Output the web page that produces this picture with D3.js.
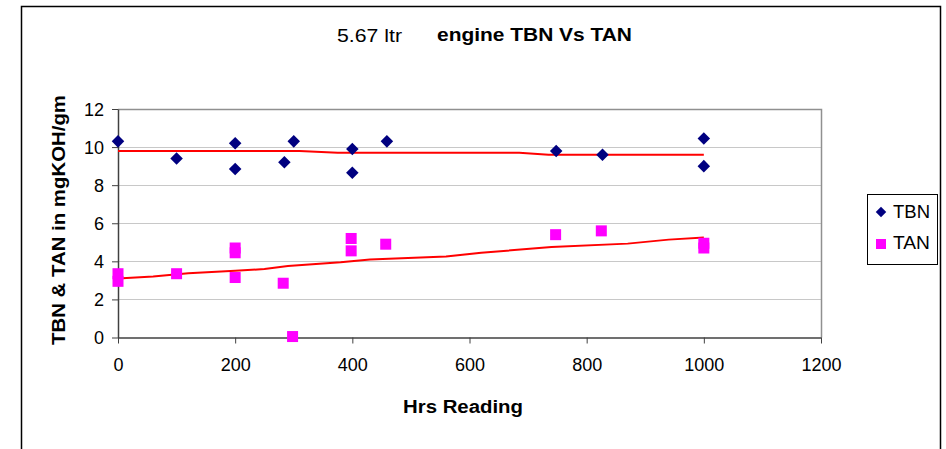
<!DOCTYPE html>
<html>
<head>
<meta charset="utf-8">
<script src="https://cdn.jsdelivr.net/npm/d3@7"></script>
<style>
  body { margin: 0; background: #fff; }
  text { font-family: "Liberation Sans", Arial, sans-serif; }
</style>
</head>
<body>
<div id="container"></div>
<script>
//Width and height
var w = 946;
var h = 449;

//TBN readings (hrs, value)
var tbnHrs = [0, 100, 200, 200, 284, 300, 400, 400, 459, 748, 827, 1000, 1000];
var tbnVals = [10.3, 9.4, 10.2, 8.85, 9.2, 10.3, 9.9, 8.65, 10.3, 9.8, 9.6, 10.45, 9.0];

//TAN readings (hrs, value)
var tanHrs = [0, 0, 100, 200, 200, 200, 282, 298, 398, 398, 457, 747, 825, 1000, 1000];
var tanVals = [3.35, 2.95, 3.35, 4.7, 4.45, 3.15, 2.85, 0.05, 5.2, 4.55, 4.9, 5.4, 5.6, 4.95, 4.7];

//trend lines
var tbnTrendHrs = [0, 310, 375, 685, 735, 1000];
var tbnTrendVals = [9.8, 9.8, 9.7, 9.7, 9.6, 9.6];
var tanTrendHrs = [0, 60, 120, 200, 250, 290, 380, 430, 560, 620, 740, 870, 940, 1000];
var tanTrendVals = [3.1, 3.2, 3.38, 3.5, 3.6, 3.75, 3.95, 4.1, 4.25, 4.45, 4.75, 4.93, 5.14, 5.25];

var xTicks = [0, 200, 400, 600, 800, 1000, 1200];
var yTicks = [0, 2, 4, 6, 8, 10, 12];
var seriesNames = ['TBN', 'TAN'];

var svg = d3.select('#container')
    .append('svg')
    .attr('width', w)
    .attr('height', h);

//outer chart border
svg.append('rect')
    .attr('x', 21.5)
    .attr('y', 6.5)
    .attr('width', 919)
    .attr('height', 460)
    .attr('fill', 'white')
    .attr('stroke', 'black')
    .attr('stroke-width', 1.5);

var plot = { left: 118, right: 821, top: 109, bottom: 337.5 };

var x = d3.scaleLinear().domain([0, 1200]).range([plot.left, plot.right]);
var y = d3.scaleLinear().domain([0, 12]).range([plot.bottom, plot.top]);

//gridlines
svg.append('g')
    .selectAll('line')
    .data(yTicks.slice(1, -1))
    .enter()
    .append('line')
    .attr('x1', plot.left)
    .attr('x2', plot.right)
    .attr('y1', function(d) { return Math.round(y(d)) + 0.5; })
    .attr('y2', function(d) { return Math.round(y(d)) + 0.5; })
    .attr('stroke', '#c8c8c8')
    .attr('stroke-width', 1);

//top and right borders of plot area
svg.append('path')
    .attr('d', 'M' + plot.left + ',' + (plot.top + 0.5) + 'H' + (plot.right + 0.5) + 'V' + plot.bottom)
    .attr('fill', 'none')
    .attr('stroke', '#909090')
    .attr('stroke-width', 1.5);

//axes
var xAxis = svg.append('g')
    .attr('transform', 'translate(0,' + plot.bottom + ')')
    .call(d3.axisBottom(x).tickValues(xTicks).tickFormat(d3.format('d'))
        .tickSize(6).tickSizeOuter(0).tickPadding(15));

var yAxis = svg.append('g')
    .attr('transform', 'translate(' + plot.left + ',0)')
    .call(d3.axisLeft(y).tickValues(yTicks).tickFormat(d3.format('d'))
        .tickSize(6).tickSizeOuter(0).tickPadding(8));

[xAxis, yAxis].forEach(function(a) {
    a.select('.domain').attr('stroke', '#404040').attr('stroke-width', 1.5);
    a.selectAll('.tick line').attr('stroke', '#404040');
    a.selectAll('.tick text')
        .style('font-family', '"Liberation Sans", Arial, sans-serif')
        .style('font-size', '18px')
        .attr('fill', 'black');
});
yAxis.selectAll('.tick text').attr('dy', '0.35em');

//trend lines
var line = d3.line()
    .x(function(d) { return x(d[0]); })
    .y(function(d) { return y(d[1]); });

[[tbnTrendHrs, tbnTrendVals], [tanTrendHrs, tanTrendVals]].forEach(function(t) {
    svg.append('path')
        .datum(d3.zip(t[0], t[1]))
        .attr('fill', 'none')
        .attr('stroke', '#ff0000')
        .attr('stroke-width', 2)
        .attr('d', line);
});

//TBN diamonds
var diamond = d3.symbol().type(d3.symbolDiamond2).size(100);
svg.append('g')
    .selectAll('path')
    .data(d3.zip(tbnHrs, tbnVals))
    .enter()
    .append('path')
    .attr('d', diamond)
    .attr('transform', function(d) { return 'translate(' + x(d[0]) + ',' + y(d[1]) + ')'; })
    .attr('fill', '#000080');

//TAN squares
svg.append('g')
    .selectAll('rect')
    .data(d3.zip(tanHrs, tanVals))
    .enter()
    .append('rect')
    .attr('x', function(d) { return x(d[0]) - 5.5; })
    .attr('y', function(d) { return y(d[1]) - 5.5; })
    .attr('width', 11)
    .attr('height', 11)
    .attr('fill', '#ff00ff');

//title
svg.append('text')
    .attr('x', 337)
    .attr('y', 42)
    .style('font-size', '18px')
    .attr('textLength', 65)
    .attr('lengthAdjust', 'spacingAndGlyphs')
    .text('5.67 ltr');
svg.append('text')
    .attr('x', 437)
    .attr('y', 41)
    .style('font-size', '18px')
    .style('font-weight', 'bold')
    .attr('textLength', 195)
    .attr('lengthAdjust', 'spacingAndGlyphs')
    .text('engine TBN Vs TAN');

//axis titles
svg.append('text')
    .attr('x', 463)
    .attr('y', 413)
    .attr('text-anchor', 'middle')
    .style('font-size', '18px')
    .style('font-weight', 'bold')
    .attr('textLength', 120)
    .attr('lengthAdjust', 'spacingAndGlyphs')
    .text('Hrs Reading');

svg.append('text')
    .attr('transform', 'translate(65,' + 220 + ') rotate(-90)')
    .attr('text-anchor', 'middle')
    .style('font-size', '18px')
    .style('font-weight', 'bold')
    .attr('textLength', 250)
    .attr('lengthAdjust', 'spacingAndGlyphs')
    .text('TBN & TAN in mgKOH/gm');

//legend
var legend = svg.append('g');
legend.append('rect')
    .attr('x', 867.5)
    .attr('y', 194.5)
    .attr('width', 70)
    .attr('height', 70)
    .attr('fill', 'white')
    .attr('stroke', 'black')
    .attr('stroke-width', 1);

legend.append('path')
    .attr('d', d3.symbol().type(d3.symbolDiamond2).size(70))
    .attr('transform', 'translate(881,212)')
    .attr('fill', '#000080');
legend.append('rect')
    .attr('x', 876)
    .attr('y', 239)
    .attr('width', 10)
    .attr('height', 10)
    .attr('fill', '#ff00ff');

legend.selectAll('text')
    .data(seriesNames)
    .enter()
    .append('text')
    .attr('x', 893)
    .attr('y', function(d, i) { return 218 + i * 31; })
    .style('font-size', '18px')
    .attr('textLength', function(d) { return 37; })
    .attr('lengthAdjust', 'spacingAndGlyphs')
    .text(function(d) { return d; });
</script>
</body>
</html>
